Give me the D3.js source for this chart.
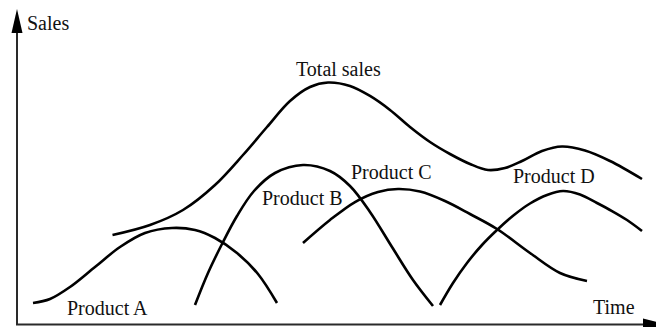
<!DOCTYPE html>
<html>
<head>
<meta charset="utf-8">
<script src="https://cdn.jsdelivr.net/npm/d3@7"></script>
<style>
  html, body { margin: 0; padding: 0; background: #fff; font-family: "Liberation Serif", "Times New Roman", serif; }
  svg { display: block; font-family: "Liberation Serif", "Times New Roman", serif; }
</style>
</head>
<body>
<script>
// ---- Data (time units, sales units) ----
const totalTime  = [4.775, 6.65, 8.3, 9.9, 11.3, 12.5, 13.65, 14.65, 15.55, 16.65, 17.65, 18.65, 19.65, 20.65, 21.65, 22.65, 23.55, 24.4, 25.25, 26.25, 27.25, 28.4, 29.65, 31.25];
const totalSales = [29.83, 33.17, 38.17, 46.5, 56.5, 65.83, 74.5, 79.17, 80.67, 79.5, 76.17, 71.5, 65.83, 60.83, 56.83, 53.5, 51.5, 52.17, 54.5, 57.83, 59.33, 58, 54.5, 48.5];

const productATime  = [0.8, 1.65, 2.65, 3.9, 5.15, 6.4, 7.75, 8.9, 9.9, 11, 12.05, 13];
const productASales = [7.17, 8.5, 12.5, 19.17, 25.83, 30.5, 32.17, 31.5, 28.83, 23.83, 16.83, 7.17];

const productBTime  = [8.9, 9.55, 10.25, 11, 11.85, 12.9, 14.3, 15.65, 16.65, 17.65, 18.75, 19.8, 20.8];
const productBSales = [6.5, 17.17, 26.83, 36.17, 44.5, 50.5, 53.17, 51.17, 46.17, 37.5, 25.83, 14.83, 6.17];

const productCTime  = [14.3, 15.65, 16.9, 18.05, 19.05, 20.15, 21.4, 22.65, 24, 25.65, 27.15, 28.5];
const productCSales = [27.17, 34.83, 40.83, 44.17, 45.17, 44.33, 41.17, 36.83, 31.83, 23.83, 17.17, 14.5];

const productDTime  = [21.15, 21.8, 22.5, 23.25, 24, 24.85, 25.65, 26.5, 27.3, 28.15, 29, 29.75, 30.5, 31.25];
const productDSales = [6.5, 13.83, 20.5, 26.5, 31.5, 36.5, 40.33, 43.17, 44.5, 43.33, 40.5, 37.83, 34.83, 31.17];

const seriesNames = ["Total sales", "Product A", "Product B", "Product C", "Product D"];
const axisLabels = ["Time", "Sales"];

// ---- Layout ----
const W = 656, H = 327;
const x0 = 17, y0 = 324.5;
const x = d3.scaleLinear().domain([0, 32]).range([x0, x0 + 640]);
const y = d3.scaleLinear().domain([0, 100]).range([y0, y0 - 300]);

const svg = d3.select("body").append("svg").attr("width", W).attr("height", H)
  .attr("font-family", "Liberation Serif");

// axes
const axisColor = "#2a2a2a";
svg.append("line").attr("x1", x0).attr("y1", y0).attr("x2", x0).attr("y2", 30)
  .attr("stroke", axisColor).attr("stroke-width", 2);
svg.append("path").attr("d", `M${x0},9 L${x0 + 5.5},33 L${x0 - 5.5},33 Z`).attr("fill", "#000");
svg.append("line").attr("x1", x0 - 1).attr("y1", y0).attr("x2", 646).attr("y2", y0)
  .attr("stroke", axisColor).attr("stroke-width", 2);
svg.append("path").attr("d", `M667,${y0} L643,${y0 - 6} L643,${y0 + 6} Z`).attr("fill", "#000");

// curves
const line = d3.line()
  .x(d => x(d[0])).y(d => y(d[1]))
  .curve(d3.curveCatmullRom.alpha(0.5));

const series = [
  [totalTime, totalSales],
  [productATime, productASales],
  [productBTime, productBSales],
  [productCTime, productCSales],
  [productDTime, productDSales]
];

series.forEach(([t, s]) => {
  svg.append("path")
    .datum(t.map((v, i) => [v, s[i]]))
    .attr("d", line)
    .attr("fill", "none")
    .attr("stroke", "#000")
    .attr("stroke-width", 2.6)
    .attr("stroke-linecap", "butt");
});

// labels (anchor points in data units)
const labelAt = [
  [13.95, 82.8],  // Total sales
  [2.5, 3.2],     // Product A
  [12.25, 39.8],  // Product B
  [16.7, 48.5],   // Product C
  [24.8, 47.2]    // Product D
];
function addText(px, py, str) {
  svg.append("text").attr("x", px).attr("y", py)
    .attr("font-family", "Liberation Serif")
    .attr("font-size", 20)
    .style("font-family", '"Liberation Serif"')
    .style("font-size", "20px")
    .style("fill", "#111")
    .text(str);
}
seriesNames.forEach((name, i) => addText(x(labelAt[i][0]), y(labelAt[i][1]), name));
addText(x(28.8), y(3.6), axisLabels[0]);
addText(27, 30, axisLabels[1]);
</script>
</body>
</html>
